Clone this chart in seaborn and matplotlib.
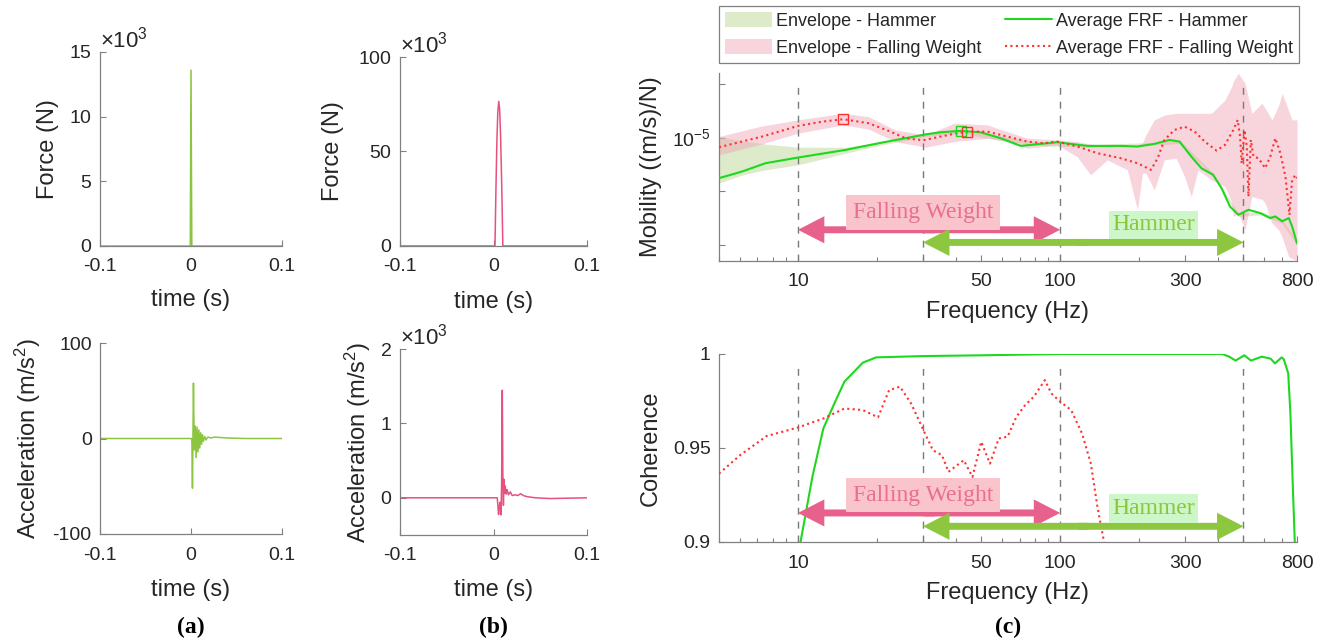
import numpy as np
import seaborn as sns
import matplotlib.pyplot as plt
from matplotlib import ticker
from matplotlib.patches import Patch
from matplotlib.lines import Line2D

# ---------------- data ----------------
# (a) hammer: force and acceleration vs time
t_force_hammer = [-0.1, -0.0008, 0.0, 0.0009, 0.1]
force_hammer = [0, 0, 13600, 0, 0]
t_acc_hammer = [-0.1, 0.0005, 0.0010, 0.0016, 0.0027, 0.0036, 0.0046, 0.0056, 0.0066,
                0.0076, 0.0086, 0.0096, 0.0106, 0.0116, 0.0126, 0.0136, 0.0150, 0.0165,
                0.0185, 0.022, 0.026, 0.030, 0.040, 0.060, 0.1]
acc_hammer = [0, 0, -3, -52, 58, -12, 13, -20, 12, -14, 9, -10, 6, -6, 4, -3, 2, -1.5,
              1.5, 0.5, 1.5, 1.2, 0.5, 0, 0]

# (b) falling weight: force and acceleration vs time
t_force_fw = [-0.1, 0.0016, 0.0026, 0.0036, 0.0046, 0.0056, 0.0066, 0.0076, 0.0088, 0.0100, 0.1]
force_fw = [0, 0, 30e3, 55e3, 71e3, 76.5e3, 72e3, 58e3, 32e3, 0, 0]
t_acc_fw = [-0.1, 0.0040, 0.0048, 0.0054, 0.0062, 0.0070, 0.0080, 0.0087, 0.0094, 0.0100,
            0.0106, 0.0112, 0.0118, 0.0125, 0.0135, 0.0145, 0.016, 0.018, 0.020, 0.023,
            0.026, 0.029, 0.032, 0.036, 0.045, 0.060, 0.080, 0.1]
acc_fw = [0, 0, -120, -225, -120, -60, -230, 200, 1446, 300, -100, 250, 60, 160, 50, 110,
          40, 80, 30, 40, 30, 55, 30, 15, 0, -10, -5, 0]

# (c) mobility, average FRFs
freq_avg_fw = [5.0, 7.3, 10.0, 12.4, 14.9, 18.6, 22.2, 25.7, 30.0, 35.0, 40.5, 44.3, 52.7,
               62.9, 75.0, 86.7, 97.5, 116.4, 138.7, 170.2, 197.2, 221.9, 235.4, 249.7,
               272.9, 298.1, 325.7, 355.9, 394.7, 424.9, 457.4, 475.3, 485.3, 492.4, 504.2,
               514.8, 522.4, 533.3, 546.0, 570.6, 605.3, 632.7, 661.5, 691.4, 722.7, 748.8,
               766.6, 789.6, 800.0]
mob_avg_fw = [6.62e-6, 1.045e-5, 1.652e-5, 1.986e-5, 2.203e-5, 1.854e-5, 1.334e-5, 9.75e-6,
              8.91e-6, 1.045e-5, 1.208e-5, 1.294e-5, 1.294e-5, 1.045e-5, 8.43e-6, 7.85e-6,
              8.43e-6, 6.81e-6, 5.12e-6, 4.13e-6, 3.33e-6, 2.50e-6, 4.13e-6, 9.06e-6,
              1.390e-5, 1.603e-5, 1.294e-5, 8.43e-6, 5.73e-6, 7.31e-6, 1.390e-5, 2.138e-5,
              1.045e-5, 3.33e-6, 1.390e-5, 6.79e-6, 7.96e-7, 9.06e-6, 4.43e-6, 4.13e-6,
              2.69e-6, 4.43e-6, 9.75e-6, 5.12e-6, 1.88e-6, 3.63e-7, 1.63e-6, 2.02e-6, 1.75e-6]
freq_avg_hammer = [5.0, 6.12, 7.52, 10.0, 15.2, 20.9, 30.7, 35.0, 41.7, 49.7, 59.3, 70.7,
                   84.2, 97.5, 127.1, 170.2, 197.2, 228.5, 261.1, 285.1, 316.2, 345.6,
                   383.1, 412.5, 444.1, 478.1, 522.4, 579.4, 632.7, 661.5, 702.0, 744.5,
                   766.6, 800.0]
mob_avg_hammer = [1.754e-6, 2.33e-6, 3.33e-6, 4.25e-6, 5.90e-6, 8.07e-6, 1.148e-5, 1.259e-5,
                  1.334e-5, 1.259e-5, 9.75e-6, 7.00e-6, 7.64e-6, 8.20e-6, 7.00e-6, 7.00e-6,
                  6.81e-6, 7.64e-6, 9.06e-6, 8.43e-6, 4.43e-6, 2.69e-6, 2.02e-6, 1.14e-6,
                  5.19e-7, 3.63e-7, 4.51e-7, 3.91e-7, 3.16e-7, 3.39e-7, 2.75e-7, 3.16e-7,
                  2.19e-7, 1.07e-7]

# envelopes (min / max over tests)
freq_env_fw = [5.0, 7.3, 10.0, 14.9, 18.6, 23.5, 30.7, 39.3, 52.7, 62.9, 75.0, 97.5, 116.0,
               130.6, 151.2, 180.4, 197.1, 206.0, 212.3, 228.5, 249.7, 276.9, 298.1, 316.2,
               335.6, 377.6, 424.9, 450.6, 457.4, 478.1, 507.0, 538.0, 587.8, 605.0, 642.0,
               680.8, 702.0, 744.0, 766.0, 800.0]
env_fw_low = [4.76e-6, 7.64e-6, 1.21e-5, 1.73e-5, 1.44e-5, 8.43e-6, 6.62e-6, 8.43e-6, 9.75e-6,
              8.43e-6, 6.34e-6, 7.31e-6, 4.43e-6, 2.02e-6, 3.85e-6, 2.50e-6, 4.50e-7, 2.17e-6,
              2.17e-6, 1.06e-6, 3.85e-6, 4.13e-6, 1.88e-6, 7.96e-7, 2.50e-6, 1.63e-6, 1.22e-6,
              6.31e-7, 3.39e-7, 3.90e-7, 1.91e-7, 7.96e-7, 7.08e-7, 6.00e-7, 2.55e-7, 1.91e-7,
              1.40e-7, 6.0e-8, 5.6e-8, 5.0e-8]
env_fw_high = [1.05e-5, 1.65e-5, 2.14e-5, 2.84e-5, 2.46e-5, 1.39e-5, 1.12e-5, 1.85e-5, 1.73e-5,
               1.29e-5, 9.75e-6, 9.06e-6, 8.43e-6, 7.59e-6, 7.08e-6, 6.76e-6, 7.24e-6, 7.94e-6,
               1.12e-5, 2.14e-5, 2.63e-5, 2.84e-5, 2.84e-5, 2.84e-5, 2.84e-5, 2.84e-5, 5.01e-5,
               8.91e-5, 1.12e-4, 1.58e-4, 1.03e-4, 2.84e-5, 4.37e-5, 3.55e-5, 2.14e-5, 3.98e-5,
               6.71e-5, 3.16e-5, 2.14e-5, 2.14e-5]
freq_env_hammer = [5.0, 6.12, 7.52, 10.0, 15.2, 20.9, 30.7, 41.7, 59.3, 84.2, 127.0, 228.0,
                   285.0, 383.0, 478.0, 579.0, 702.0, 800.0]
env_hammer_low = [1.42e-6, 2.00e-6, 2.51e-6, 3.10e-6, 5.12e-6, 7.31e-6, 1.045e-5, 1.20e-5,
                  8.91e-6, 7.08e-6, 6.61e-6, 7.24e-6, 7.76e-6, 1.86e-6, 3.39e-7, 3.63e-7,
                  2.51e-7, 9.8e-8]
env_hammer_high = [1.045e-5, 8.71e-6, 7.59e-6, 6.62e-6, 6.62e-6, 8.43e-6, 1.24e-5, 1.445e-5,
                   1.07e-5, 8.13e-6, 7.41e-6, 8.13e-6, 9.12e-6, 2.19e-6, 3.89e-7, 4.17e-7,
                   3.02e-7, 1.17e-7]

# peak markers
peak_freq_fw = [14.9, 44.3]
peak_mob_fw = [2.203e-5, 1.294e-5]
peak_freq_hammer = [41.7]
peak_mob_hammer = [1.334e-5]

# coherence
freq_coh_hammer = [9.6, 10.23, 11.35, 12.5, 13.77, 15.04, 17.68, 19.85, 30.1, 50.0, 100.0,
                   415.7, 440.5, 466.6, 503.9, 533.9, 587.7, 634.8, 659.6, 699.0, 712.6,
                   740.6, 755.0, 769.7, 784.6, 795.0]
coh_hammer = [0.885, 0.900, 0.9346, 0.9604, 0.9737, 0.9853, 0.9954, 0.9982, 0.9989, 0.9993,
              1.0, 1.0, 0.9986, 0.9965, 0.9993, 0.9965, 0.9986, 0.9975, 0.9950, 0.9982,
              0.9972, 0.9897, 0.9684, 0.9330, 0.9000, 0.870]
freq_coh_fw = [5.0, 6.02, 7.58, 10.0, 12.5, 15.04, 17.68, 20.2, 22.27, 24.5, 27.0, 30.1, 32.7,
               35.4, 37.5, 39.7, 42.9, 46.3, 50.0, 54.0, 58.3, 63.0, 68.1, 73.5, 79.4, 87.4,
               92.6, 100.0, 110.1, 121.2, 130.9, 138.7, 147.0, 155.0]
coh_fw = [0.9364, 0.9462, 0.9563, 0.9609, 0.9657, 0.9710, 0.9702, 0.9663, 0.9808, 0.9826,
          0.9737, 0.9595, 0.9488, 0.9462, 0.9373, 0.9400, 0.9435, 0.9346, 0.9533, 0.9417,
          0.9551, 0.9560, 0.9666, 0.9728, 0.9773, 0.9861, 0.9790, 0.9746, 0.9702, 0.9577,
          0.9417, 0.9187, 0.9000, 0.8800]

band_edges = [10, 30, 100, 500]
band_fw = (10, 100)
band_hammer = (30, 500)
freq_ticks = [10, 50, 100, 300, 800]

# ---------------- style ----------------
sns.set_theme(style="ticks")
plt.rcParams['font.family'] = ['Liberation Sans', 'DejaVu Sans']
plt.rcParams['mathtext.fontset'] = 'custom'
plt.rcParams['mathtext.rm'] = 'Liberation Sans'
plt.rcParams['mathtext.it'] = 'Liberation Sans:italic'
plt.rcParams['mathtext.bf'] = 'Liberation Sans:bold'
plt.rcParams['axes.unicode_minus'] = False

c_hammer_sig = '#8cc540'
c_fw_sig = '#e8507e'
c_avg_h = '#1ed81e'
c_avg_fw = '#ff3030'
c_env_h = '#b5d38a'
c_env_fw = '#f0a0b4'
c_spine = '#808080'
c_text = '#262626'

W, H = 1320, 642
fig = plt.figure(figsize=(W / 100, H / 100), dpi=100)


def px_axes(l, t, r, b):
    return fig.add_axes([l / W, 1 - b / H, (r - l) / W, (b - t) / H])


def style_ax(ax, fs=14):
    sns.despine(ax=ax)
    for s in ['left', 'bottom']:
        ax.spines[s].set_color(c_spine)
        ax.spines[s].set_linewidth(0.9)
    ax.tick_params(axis='both', which='both', direction='in', color=c_spine,
                   labelcolor=c_text, labelsize=fs, width=0.8)
    ax.tick_params(axis='both', which='major', length=4)
    ax.tick_params(axis='both', which='minor', length=3)
    ax.tick_params(axis='x', pad=9)
    ax.tick_params(axis='y', pad=6)


def set_labels(ax, xl, yl, xpos, ypos, fs=17):
    ax.set_xlabel(xl, fontsize=fs, color=c_text)
    ax.set_ylabel(yl, fontsize=fs, color=c_text)
    ax.xaxis.set_label_coords(0.5, xpos)
    ax.yaxis.set_label_coords(ypos, 0.5)
    ax.xaxis.label.set_va('center')
    ax.yaxis.label.set_va('center')


def time_ax(ax, t, v, color, ylim, yticks, sci, xpos, ypos, ylab):
    sns.lineplot(x=t, y=v, ax=ax, color=color, linewidth=1.1, estimator=None, sort=False)
    ax.set_xlim(-0.1, 0.1)
    ax.set_xticks([-0.1, 0, 0.1], ['-0.1', '0', '0.1'])
    ax.set_ylim(*ylim)
    ax.set_yticks(yticks)
    style_ax(ax)
    if sci:
        ax.ticklabel_format(axis='y', style='sci', scilimits=(3, 3), useMathText=True)
        ot = ax.yaxis.get_offset_text()
        ot.set_fontsize(16)
        ot.set_color(c_text)
    set_labels(ax, 'time (s)', ylab, xpos, ypos)


acc_label = 'Acceleration (m/s$^2$)'
ax_a1 = px_axes(100, 52, 282, 246)
time_ax(ax_a1, t_force_hammer, force_hammer, c_hammer_sig, (0, 15000), [0, 5000, 10000, 15000],
        True, -0.278, -0.286, 'Force (N)')
ax_a2 = px_axes(100, 343, 282, 534)
time_ax(ax_a2, t_acc_hammer, acc_hammer, c_hammer_sig, (-100, 100), [-100, 0, 100],
        False, -0.293, -0.396, acc_label)
ax_b1 = px_axes(400, 57, 587, 246)
time_ax(ax_b1, t_force_fw, force_fw, c_fw_sig, (0, 100000), [0, 50000, 100000],
        True, -0.295, -0.358, 'Force (N)')
ax_b2 = px_axes(400, 349, 587, 535)
time_ax(ax_b2, t_acc_fw, acc_fw, c_fw_sig, (-500, 2000), [0, 1000, 2000],
        True, -0.296, -0.225, acc_label)


def freq_ax(ax):
    ax.set_xscale('log')
    ax.set_xlim(5, 800)
    ax.xaxis.set_major_locator(ticker.FixedLocator(freq_ticks))
    ax.xaxis.set_major_formatter(ticker.FuncFormatter(lambda v, p: f'{v:g}'))
    ax.xaxis.set_minor_locator(ticker.LogLocator(base=10, subs=np.arange(2, 10)))
    ax.xaxis.set_minor_formatter(ticker.NullFormatter())
    for f in band_edges:
        ax.axvline(f, ymin=0, ymax=0.96, color='#7a7a7a', lw=1, ls=(0, (5, 5)), zorder=1.5)
    style_ax(ax)


def band_arrow(ax, lo, hi, y, color):
    mid = np.sqrt(lo * hi)
    props = dict(arrowstyle='simple,head_length=1.9,head_width=1.95,tail_width=0.5',
                 mutation_scale=10, color=color, lw=0, shrinkA=0, shrinkB=0)
    ax.annotate('', xy=(lo, y), xytext=(mid * 1.05, y), arrowprops=props, zorder=5,
                annotation_clip=False)
    ax.annotate('', xy=(hi, y), xytext=(mid / 1.05, y), arrowprops=props, zorder=5,
                annotation_clip=False)


def band_label(ax, x, y, s, color, bg, pad):
    ax.text(x, y, s, ha='center', va='center', fontsize=17, family='Liberation Serif',
            color=color, zorder=6,
            bbox=dict(boxstyle=f'square,pad={pad}', fc=bg, ec='none'))


def bands(ax, y_fw_txt, y_fw_arr, y_h_txt, y_h_arr):
    band_label(ax, 30, y_fw_txt, 'Falling Weight', '#e8708e', '#f9c4cc', 0.28)
    band_arrow(ax, band_fw[0], band_fw[1], y_fw_arr, '#e8618c')
    band_label(ax, 227, y_h_txt, 'Hammer', '#8fc43c', '#cdf7c9', 0.15)
    band_arrow(ax, band_hammer[0], band_hammer[1], y_h_arr, '#8dc63f')


# (c) top: mobility
ax_c1 = px_axes(719, 73, 1297, 261)
ax_c1.fill_between(freq_env_hammer, env_hammer_low, env_hammer_high, color=c_env_h,
                   alpha=0.45, lw=0, zorder=1)
ax_c1.fill_between(freq_env_fw, env_fw_low, env_fw_high, color=c_env_fw, alpha=0.45,
                   lw=0, zorder=1)
sns.lineplot(x=freq_avg_hammer, y=mob_avg_hammer, ax=ax_c1, color=c_avg_h, linewidth=1.5,
             estimator=None, sort=False, zorder=3)
sns.lineplot(x=freq_avg_fw, y=mob_avg_fw, ax=ax_c1, color=c_avg_fw, linewidth=1.5,
             linestyle=(0, (1, 1.6)), estimator=None, sort=False, zorder=3)
ax_c1.plot(peak_freq_hammer, peak_mob_hammer, 's', ms=7, mfc='none', mec=c_avg_h, mew=1, zorder=4)
ax_c1.plot(peak_freq_fw, peak_mob_fw, 's', ms=7, mfc='none', mec=c_avg_fw, mew=1, zorder=4)
ax_c1.set_yscale('log')
freq_ax(ax_c1)
ax_c1.set_ylim(5.0e-8, 1.603e-4)
ax_c1.yaxis.set_major_locator(ticker.FixedLocator([1e-7, 1e-6, 1e-5, 1e-4]))
ax_c1.yaxis.set_major_formatter(ticker.FuncFormatter(
    lambda v, p: r'$10^{-5}$' if abs(np.log10(v) + 5) < 0.01 else ''))
ax_c1.yaxis.set_minor_locator(ticker.NullLocator())
bands(ax_c1, 4.0e-7, 1.91e-7, 2.37e-7, 1.11e-7)
set_labels(ax_c1, 'Frequency (Hz)', 'Mobility ((m/s)/N)', -0.27, -0.118)

# (c) bottom: coherence
ax_c2 = px_axes(719, 354, 1297, 542)
sns.lineplot(x=freq_coh_hammer, y=coh_hammer, ax=ax_c2, color=c_avg_h, linewidth=1.5,
             estimator=None, sort=False, zorder=3)
sns.lineplot(x=freq_coh_fw, y=coh_fw, ax=ax_c2, color=c_avg_fw, linewidth=1.5,
             linestyle=(0, (1, 1.6)), estimator=None, sort=False, zorder=3)
freq_ax(ax_c2)
ax_c2.set_ylim(0.9, 1.0)
ax_c2.set_yticks([0.9, 0.95, 1.0], ['0.9', '0.95', '1'])
bands(ax_c2, 0.9249, 0.91545, 0.9178, 0.90835)
set_labels(ax_c2, 'Frequency (Hz)', 'Coherence', -0.273, -0.118)

# legend over (c)
handles = [Patch(facecolor=c_env_h, alpha=0.45, edgecolor='none'),
           Patch(facecolor=c_env_fw, alpha=0.45, edgecolor='none'),
           Line2D([], [], color=c_avg_h, lw=1.5),
           Line2D([], [], color=c_avg_fw, lw=1.5, ls=(0, (1, 1.6)))]
labels = ['Envelope - Hammer', 'Envelope - Falling Weight',
          'Average FRF - Hammer', 'Average FRF - Falling Weight']
leg = fig.legend(handles, labels, ncol=2, loc='upper left', mode='expand',
                 bbox_to_anchor=(719 / W, 1 - 62 / H, (1299 - 719) / W, 56 / H),
                 borderaxespad=0, fontsize=13, frameon=True, fancybox=False,
                 framealpha=1, edgecolor=c_spine, handlelength=2.6, handleheight=0.95,
                 handletextpad=0.25, columnspacing=0.5, borderpad=0.32, labelspacing=0.5)
leg.get_frame().set_linewidth(0.9)
for txt in leg.get_texts():
    txt.set_color(c_text)

# panel letters
for x, s in [(191, '(a)'), (493, '(b)'), (1008, '(c)')]:
    fig.text(x / W, 1 - 627 / H, s, ha='center', va='center', fontsize=17,
             fontweight='bold', family='Liberation Serif', color='black')

fig.savefig('out.png', dpi=100)
